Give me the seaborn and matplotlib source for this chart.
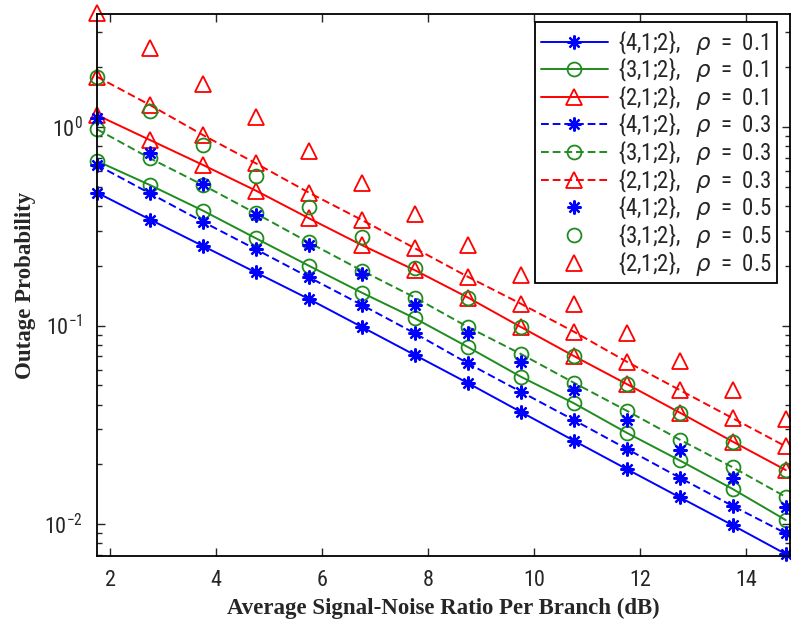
import matplotlib
matplotlib.use("Agg")
import numpy as np
import pandas as pd
import seaborn as sns
import matplotlib.pyplot as plt
from matplotlib.ticker import LogLocator, FixedLocator, NullFormatter

# ---------------- data ----------------
snr_db = [1.75, 2.75, 3.75, 4.75, 5.75, 6.75, 7.75, 8.75, 9.75, 10.75, 11.75, 12.75, 13.75, 14.75]

p_412_r01 = [0.467, 0.342, 0.2515, 0.185, 0.136, 0.0983, 0.0710, 0.0513, 0.0367, 0.0263, 0.0189, 0.01363, 0.00985, 0.00706]
p_312_r01 = [0.674, 0.510, 0.379, 0.275, 0.200, 0.1463, 0.1087, 0.0779, 0.0552, 0.0406, 0.0288, 0.0209, 0.0150, 0.01047]
p_212_r01 = [1.149, 0.860, 0.644, 0.478, 0.347, 0.254, 0.190, 0.1384, 0.0983, 0.0702, 0.0507, 0.0364, 0.0260, 0.0187]
p_412_r03 = [0.644, 0.463, 0.333, 0.242, 0.175, 0.1269, 0.0913, 0.0645, 0.0464, 0.0334, 0.0239, 0.0171, 0.01232, 0.00898]
p_312_r03 = [0.974, 0.696, 0.510, 0.367, 0.262, 0.189, 0.1384, 0.0983, 0.0719, 0.0515, 0.0372, 0.0266, 0.0193, 0.0137]
p_212_r03 = [1.792, 1.291, 0.911, 0.656, 0.467, 0.340, 0.245, 0.176, 0.1287, 0.0931, 0.0657, 0.0473, 0.0341, 0.0246]
p_412_r05 = [1.106, 0.742, 0.514, 0.360, 0.254, 0.1817, 0.1269, 0.0922, 0.0657, 0.0473, 0.0334, 0.0236, 0.0170, 0.0122]
p_312_r05 = [1.792, 1.204, 0.812, 0.566, 0.394, 0.278, 0.195, 0.1384, 0.0983, 0.0702, 0.0507, 0.0364, 0.0260, 0.0187]
p_212_r05 = [3.77, 2.49, 1.656, 1.117, 0.761, 0.525, 0.364, 0.254, 0.1806, 0.129, 0.0922, 0.0663, 0.0473, 0.0340]

labels = [r"{4,1;2},   $\mathit{\rho}$  =  0.1", r"{3,1;2},   $\mathit{\rho}$  =  0.1", r"{2,1;2},   $\mathit{\rho}$  =  0.1",
          r"{4,1;2},   $\mathit{\rho}$  =  0.3", r"{3,1;2},   $\mathit{\rho}$  =  0.3", r"{2,1;2},   $\mathit{\rho}$  =  0.3",
          r"{4,1;2},   $\mathit{\rho}$  =  0.5", r"{3,1;2},   $\mathit{\rho}$  =  0.5", r"{2,1;2},   $\mathit{\rho}$  =  0.5"]
xticks = [2, 4, 6, 8, 10, 12, 14]

# ---------------- style ----------------
sns.set_style("ticks")
plt.rcParams["font.family"] = ["Roboto Condensed", "DejaVu Sans"]
plt.rcParams["mathtext.default"] = "regular"
plt.rcParams["xtick.direction"] = "in"
plt.rcParams["ytick.direction"] = "in"

BLUE = "#0000ff"
GREEN = "#1e8c1e"
RED = "#ff0000"
DASH = (0, (4, 2))
STAR = (8, 2, 0)

series = [
    (p_412_r01, BLUE, "-", STAR),
    (p_312_r01, GREEN, "-", "o"),
    (p_212_r01, RED, "-", "^"),
    (p_412_r03, BLUE, DASH, STAR),
    (p_312_r03, GREEN, DASH, "o"),
    (p_212_r03, RED, DASH, "^"),
    (p_412_r05, BLUE, "None", STAR),
    (p_312_r05, GREEN, "None", "o"),
    (p_212_r05, RED, "None", "^"),
]

fig = plt.figure(figsize=(7.91, 6.29), dpi=100)
ax = fig.add_axes([97 / 791, 1 - 556 / 629, (790 - 97) / 791, (556 - 14) / 629])

for (vals, col, ls, mk), lab in zip(series, labels):
    df = pd.DataFrame({"snr": snr_db, "p": vals})
    if mk == STAR:
        msize, mew = 10, 1.6
    elif mk == "^":
        msize, mew = 11, 1.3
    else:
        msize, mew = 10, 1.3
    sns.lineplot(data=df, x="snr", y="p", ax=ax, color=col, linestyle=ls,
                 marker=mk, markersize=msize, markerfacecolor="none",
                 markeredgecolor=col, markeredgewidth=mew, linewidth=1.4,
                 label=lab, errorbar=None, clip_on=False)

ax.set_yscale("log")
ax.set_xlim(1.75, 14.83)
ax.set_ylim(0.0069, 3.71)
ax.xaxis.set_major_locator(FixedLocator(xticks))
ax.yaxis.set_major_locator(LogLocator(base=10))
ax.yaxis.set_minor_locator(LogLocator(base=10, subs=np.arange(2, 10)))
ax.yaxis.set_minor_formatter(NullFormatter())
ax.tick_params(which="both", top=True, right=True, direction="in", width=1.0)
ax.tick_params(which="major", length=6, labelsize=16, pad=10)
ax.tick_params(which="minor", length=3.5)
for s in ax.spines.values():
    s.set_linewidth(1.3)
    s.set_color("black")

ax.set_xlabel("Average Signal-Noise Ratio Per Branch (dB)", fontsize=16.5, fontweight="bold",
              family=["Liberation Serif", "DejaVu Serif"], labelpad=5)
ax.set_ylabel("Outage Probability", fontsize=16.5, fontweight="bold",
              family=["Liberation Serif", "DejaVu Serif"], labelpad=6)

leg = ax.legend(loc="upper right", fontsize=16.5, frameon=True, fancybox=False,
                edgecolor="black", framealpha=1, handlelength=2.9, labelspacing=-0.06,
                borderpad=0.25, handletextpad=0.45, borderaxespad=0.0,
                bbox_to_anchor=(0.9815, 0.9855))
leg.get_frame().set_linewidth(1.3)

fig.savefig("out.png", dpi=100)
